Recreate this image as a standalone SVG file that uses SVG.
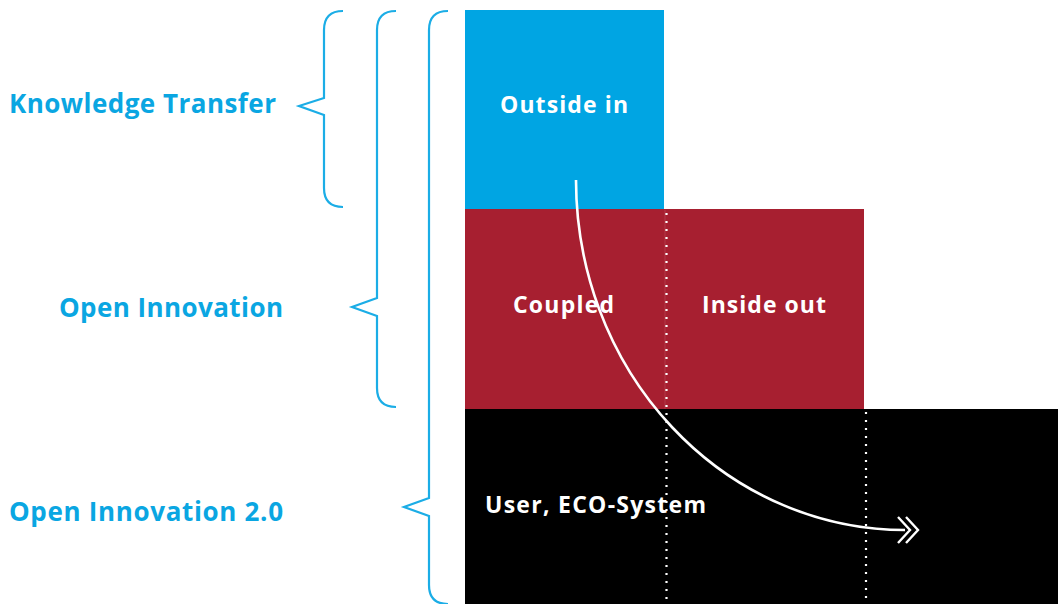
<svg xmlns="http://www.w3.org/2000/svg" width="1058" height="604" viewBox="0 0 1058 604">
<style>
.brace{fill:none;stroke:#1badE6;stroke-width:2.2;stroke-linejoin:miter}
.lbl{font-family:"Open Sans","Liberation Sans",sans-serif;font-weight:700;font-size:26px;fill:#0aa6e2}
.box{font-family:"Open Sans","Liberation Sans",sans-serif;font-weight:700;font-size:23px;fill:#ffffff}
.dots{stroke:#ffffff;stroke-width:2.2;stroke-dasharray:2 6;fill:none}
.faint{stroke:#ffffff;stroke-opacity:0.12;stroke-width:1;fill:none}
</style>
<defs>
<marker id="chev" markerWidth="30" markerHeight="30" refX="9" refY="15" orient="auto" markerUnits="userSpaceOnUse">
<path d="M2,2 L14,15 L2,28 M10,2 L22,15 L10,28" fill="none" stroke="#fff" stroke-width="2.4"/>
</marker>
</defs>
<rect width="1058" height="604" fill="#fff"/>
<g id="outside-in">
<rect x="465" y="10" width="199" height="200" fill="#00a5e3"/>
<text class="box" x="500" y="113" textLength="128" lengthAdjust="spacing">Outside in</text>
</g>
<g id="coupled">
<rect x="465" y="209" width="201" height="200" fill="#a71f30"/>
<text class="box" x="513" y="313" textLength="101" lengthAdjust="spacing">Coupled</text>
</g>
<g id="inside-out">
<rect x="665" y="209" width="199" height="200" fill="#a71f30"/>
<text class="box" x="702" y="313" textLength="124" lengthAdjust="spacing">Inside out</text>
</g>
<g id="user-eco">
<rect x="465" y="409" width="593" height="195" fill="#000"/>
<text class="box" x="485" y="513" textLength="221" lengthAdjust="spacing">User, ECO-System</text>
</g>
<g id="knowledge-transfer">
<path class="brace" d="M343,11 Q324,11 324,30 L324,98 L299,106 L324,115 L324,188 Q324,207 343,207"/>
<text class="lbl" x="9" y="113" textLength="267" lengthAdjust="spacing">Knowledge Transfer</text>
</g>
<g id="open-innovation">
<path class="brace" d="M396,11 Q377,11 377,30 L377,298 L352,307 L377,316 L377,388 Q377,407 396,407"/>
<text class="lbl" x="59" y="317" textLength="224" lengthAdjust="spacing">Open Innovation</text>
</g>
<g id="open-innovation-2">
<path class="brace" d="M448,11 Q429,11 429,30 L429,498 L404,507 L429,516 L429,585 Q429,604 448,604"/>
<text class="lbl" x="9" y="521" textLength="274" lengthAdjust="spacing">Open Innovation 2.0</text>
</g>
<g id="connectors">
<line class="faint" x1="665" y1="210" x2="665" y2="409"/>
<line class="dots" x1="666.5" y1="213" x2="666.5" y2="604"/>
<line class="dots" x1="866" y1="412" x2="866" y2="604"/>
<path d="M576,180 A329,350 0 0 0 905,530" fill="none" stroke="#fff" stroke-width="2.6" marker-end="url(#chev)"/>
</g>
</svg>
